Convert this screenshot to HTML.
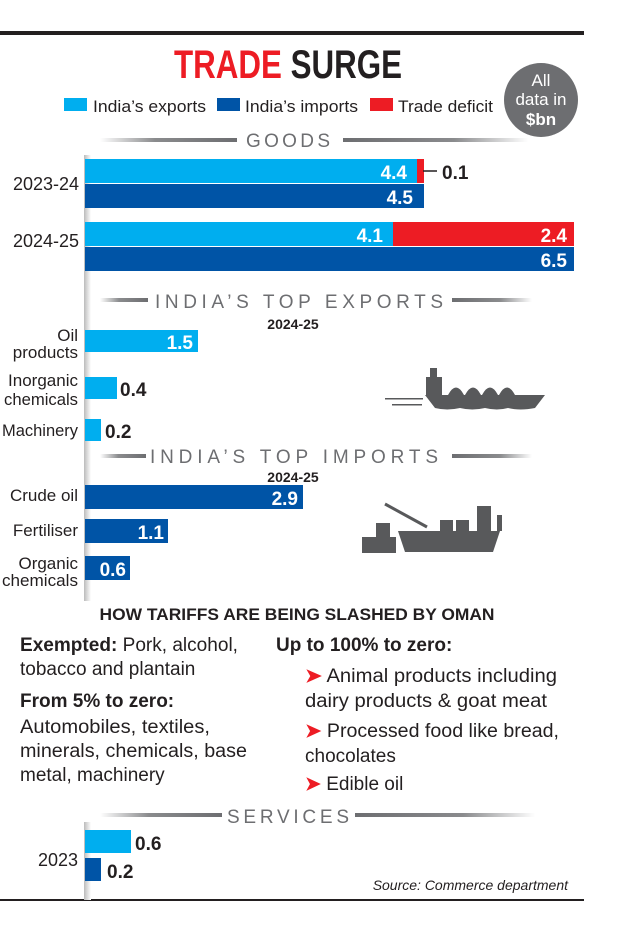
<!DOCTYPE html>
<html><head><meta charset="utf-8"><style>
html,body{margin:0;padding:0;background:#fff}
svg{display:block}
text{font-family:"Liberation Sans Narrow","Liberation Sans",sans-serif}
.b{font-weight:bold}
.w{fill:#fff;font-weight:bold;font-size:19px}
.k{fill:#231f20;font-weight:bold;font-size:19px}
.l{fill:#231f20;font-size:17px}
.h{fill:#6d6e71;font-size:19px}
.t{fill:#231f20;font-size:18px}
</style></head><body>
<svg width="635" height="935" viewBox="0 0 635 935">
<defs>
<linearGradient id="gl" x1="0" x2="1"><stop offset="0" stop-color="#fff"/><stop offset="0.4" stop-color="#8a8b8d"/><stop offset="1" stop-color="#6d6e71"/></linearGradient>
<linearGradient id="gr" x1="0" x2="1"><stop offset="0" stop-color="#6d6e71"/><stop offset="0.6" stop-color="#8a8b8d"/><stop offset="1" stop-color="#fff"/></linearGradient>
<linearGradient id="ax" x1="0" x2="1"><stop offset="0" stop-color="#bbb"/><stop offset="1" stop-color="#fff"/></linearGradient>
</defs>
<rect x="0" y="31" width="584" height="4" fill="#231f20"/>
<rect x="0" y="899" width="584" height="2" fill="#231f20"/>
<text x="288" y="78" text-anchor="middle" font-size="40" class="b" textLength="228" lengthAdjust="spacingAndGlyphs"><tspan fill="#ed1c24">TRADE</tspan><tspan fill="#231f20"> SURGE</tspan></text>
<circle cx="541" cy="100" r="37" fill="#6d6e71"/>
<text x="541" y="86" text-anchor="middle" fill="#fff" font-size="17">All</text>
<text x="541" y="105" text-anchor="middle" fill="#fff" font-size="17">data in</text>
<text x="541" y="125" text-anchor="middle" fill="#fff" font-size="17" class="b">$bn</text>
<rect x="64" y="98" width="23" height="13" fill="#00aeef"/>
<text x="93" y="112" class="l" textLength="113" lengthAdjust="spacingAndGlyphs">India’s exports</text>
<rect x="217" y="98" width="23" height="13" fill="#0054a6"/>
<text x="245" y="112" class="l" textLength="113" lengthAdjust="spacingAndGlyphs">India’s imports</text>
<rect x="370" y="98" width="23" height="13" fill="#ed1c24"/>
<text x="398" y="112" class="l" textLength="95" lengthAdjust="spacingAndGlyphs">Trade deficit</text>
<rect x="84" y="155" width="7" height="446" fill="url(#ax)"/>
<rect x="84" y="822" width="7" height="78" fill="url(#ax)"/>
<!-- goods -->
<rect x="100" y="138" width="137" height="4" fill="url(#gl)"/>
<text x="246" y="147" class="h" textLength="84" lengthAdjust="spacing">GOODS</text>
<rect x="343" y="138" width="185" height="4" fill="url(#gr)"/>
<rect x="85" y="159" width="332" height="24" fill="#00aeef"/>
<rect x="417" y="159" width="7" height="24" fill="#ed1c24"/>
<text x="407" y="179" class="w" text-anchor="end">4.4</text>
<line x1="423" y1="171" x2="437" y2="171" stroke="#231f20" stroke-width="1.5"/>
<text x="442" y="179" class="k">0.1</text>
<rect x="85" y="184" width="339" height="24" fill="#0054a6"/>
<text x="413" y="204" class="w" text-anchor="end">4.5</text>
<text x="79" y="190" class="t" text-anchor="end">2023-24</text>
<rect x="85" y="222" width="308" height="24" fill="#00aeef"/>
<rect x="393" y="222" width="181" height="24" fill="#ed1c24"/>
<text x="383" y="242" class="w" text-anchor="end">4.1</text>
<text x="567" y="242" class="w" text-anchor="end">2.4</text>
<rect x="85" y="247" width="489" height="24" fill="#0054a6"/>
<text x="567" y="267" class="w" text-anchor="end">6.5</text>
<text x="79" y="247" class="t" text-anchor="end">2024-25</text>
<!-- top exports -->
<rect x="100" y="298" width="48" height="4" fill="url(#gl)"/>
<text x="155" y="308" class="h" textLength="288" lengthAdjust="spacing">INDIA’S TOP EXPORTS</text>
<rect x="452" y="298" width="80" height="4" fill="url(#gr)"/>
<text x="293" y="329" class="b" font-size="14" fill="#231f20" text-anchor="middle">2024-25</text>
<rect x="85" y="330" width="113" height="22" fill="#00aeef"/>
<text x="193" y="349" class="w" text-anchor="end">1.5</text>
<text x="78" y="341" class="l" text-anchor="end">Oil</text>
<text x="78" y="358" class="l" text-anchor="end">products</text>
<rect x="85" y="377" width="32" height="22" fill="#00aeef"/>
<text x="120" y="396" class="k">0.4</text>
<text x="78" y="386" class="l" text-anchor="end" textLength="70" lengthAdjust="spacingAndGlyphs">Inorganic</text>
<text x="78" y="405" class="l" text-anchor="end" textLength="74" lengthAdjust="spacingAndGlyphs">chemicals</text>
<rect x="85" y="419" width="16" height="22" fill="#00aeef"/>
<text x="105" y="438" class="k">0.2</text>
<text x="78" y="436" class="l" text-anchor="end" textLength="76" lengthAdjust="spacingAndGlyphs">Machinery</text>
<!-- ship 1 -->
<g fill="#58595b">
<path d="M425 395 L545 395 L535 408 Q520 411 508 408 Q497 411 485 408 Q472 411 460 408 Q447 411 435 408 Z"/>
<rect x="426" y="377" width="16" height="18"/><rect x="430" y="368" width="7" height="10"/>
<path d="M448 395 Q456 380 464 395Z M465 395 Q473 380 481 395Z M482 395 Q490 380 498 395Z M499 395 Q507 380 515 395Z"/>
<rect x="385" y="398" width="38" height="1.5"/><rect x="392" y="404" width="30" height="1.5"/>
</g>
<!-- top imports -->
<rect x="100" y="454" width="46" height="4" fill="url(#gl)"/>
<text x="150" y="463" class="h" textLength="288" lengthAdjust="spacing">INDIA’S TOP IMPORTS</text>
<rect x="452" y="454" width="80" height="4" fill="url(#gr)"/>
<text x="293" y="482" class="b" font-size="14" fill="#231f20" text-anchor="middle">2024-25</text>
<rect x="85" y="485" width="218" height="24" fill="#0054a6"/>
<text x="298" y="505" class="w" text-anchor="end">2.9</text>
<text x="78" y="501" class="l" text-anchor="end">Crude oil</text>
<rect x="85" y="519" width="83" height="24" fill="#0054a6"/>
<text x="164" y="539" class="w" text-anchor="end">1.1</text>
<text x="78" y="536" class="l" text-anchor="end">Fertiliser</text>
<rect x="85" y="556" width="45" height="24" fill="#0054a6"/>
<text x="126" y="576" class="w" text-anchor="end">0.6</text>
<text x="78" y="569" class="l" text-anchor="end">Organic</text>
<text x="78" y="586" class="l" text-anchor="end" textLength="76" lengthAdjust="spacingAndGlyphs">chemicals</text>
<!-- ship 2 -->
<g fill="#58595b">
<rect x="362" y="537" width="34" height="16"/><rect x="376" y="523" width="14" height="14"/>
<path d="M398 531 L497 531 L497 515 L502 515 L502 531 L500 531 L493 552 L405 552 Z"/>
<rect x="440" y="520" width="13" height="11"/><rect x="456" y="520" width="13" height="11"/>
<rect x="477" y="506" width="14" height="25"/>
<line x1="385" y1="504" x2="427" y2="527" stroke="#58595b" stroke-width="3"/>
</g>
<!-- tariffs -->
<text x="297" y="620" text-anchor="middle" class="b" font-size="17" fill="#231f20" textLength="395" lengthAdjust="spacingAndGlyphs">HOW TARIFFS ARE BEING SLASHED BY OMAN</text>
<g class="t" font-size="19" fill="#231f20">
<text x="20" y="651" font-size="19" textLength="218" lengthAdjust="spacingAndGlyphs"><tspan class="b">Exempted:</tspan> Pork, alcohol,</text>
<text x="20" y="675" font-size="19">tobacco and plantain</text>
<text x="20" y="707" font-size="19" class="b">From 5% to zero:</text>
<text x="20" y="733" font-size="19" textLength="190" lengthAdjust="spacingAndGlyphs">Automobiles, textiles,</text>
<text x="20" y="757" font-size="19" textLength="227" lengthAdjust="spacingAndGlyphs">minerals, chemicals, base</text>
<text x="20" y="781" font-size="19">metal, machinery</text>
<text x="276" y="651" font-size="19" class="b">Up to 100% to zero:</text>
<text x="305" y="682" font-size="19" textLength="252" lengthAdjust="spacingAndGlyphs"><tspan fill="#ed1c24" class="b">➤</tspan> Animal products including</text>
<text x="305" y="707" font-size="19" textLength="242" lengthAdjust="spacingAndGlyphs">dairy products &amp; goat meat</text>
<text x="305" y="737" font-size="19" textLength="254" lengthAdjust="spacingAndGlyphs"><tspan fill="#ed1c24" class="b">➤</tspan> Processed food like bread,</text>
<text x="305" y="762" font-size="19">chocolates</text>
<text x="305" y="790" font-size="19"><tspan fill="#ed1c24" class="b">➤</tspan> Edible oil</text>
</g>
<!-- services -->
<rect x="100" y="813" width="122" height="4" fill="url(#gl)"/>
<text x="227" y="823" class="h" textLength="122" lengthAdjust="spacing">SERVICES</text>
<rect x="355" y="813" width="180" height="4" fill="url(#gr)"/>
<rect x="85" y="830" width="46" height="23" fill="#00aeef"/>
<text x="135" y="850" class="k">0.6</text>
<rect x="85" y="858" width="16" height="23" fill="#0054a6"/>
<text x="107" y="878" class="k">0.2</text>
<text x="78" y="866" class="t" text-anchor="end">2023</text>
<text x="568" y="890" text-anchor="end" font-size="14" font-style="italic" fill="#231f20">Source: Commerce department</text>
</svg>
</body></html>
